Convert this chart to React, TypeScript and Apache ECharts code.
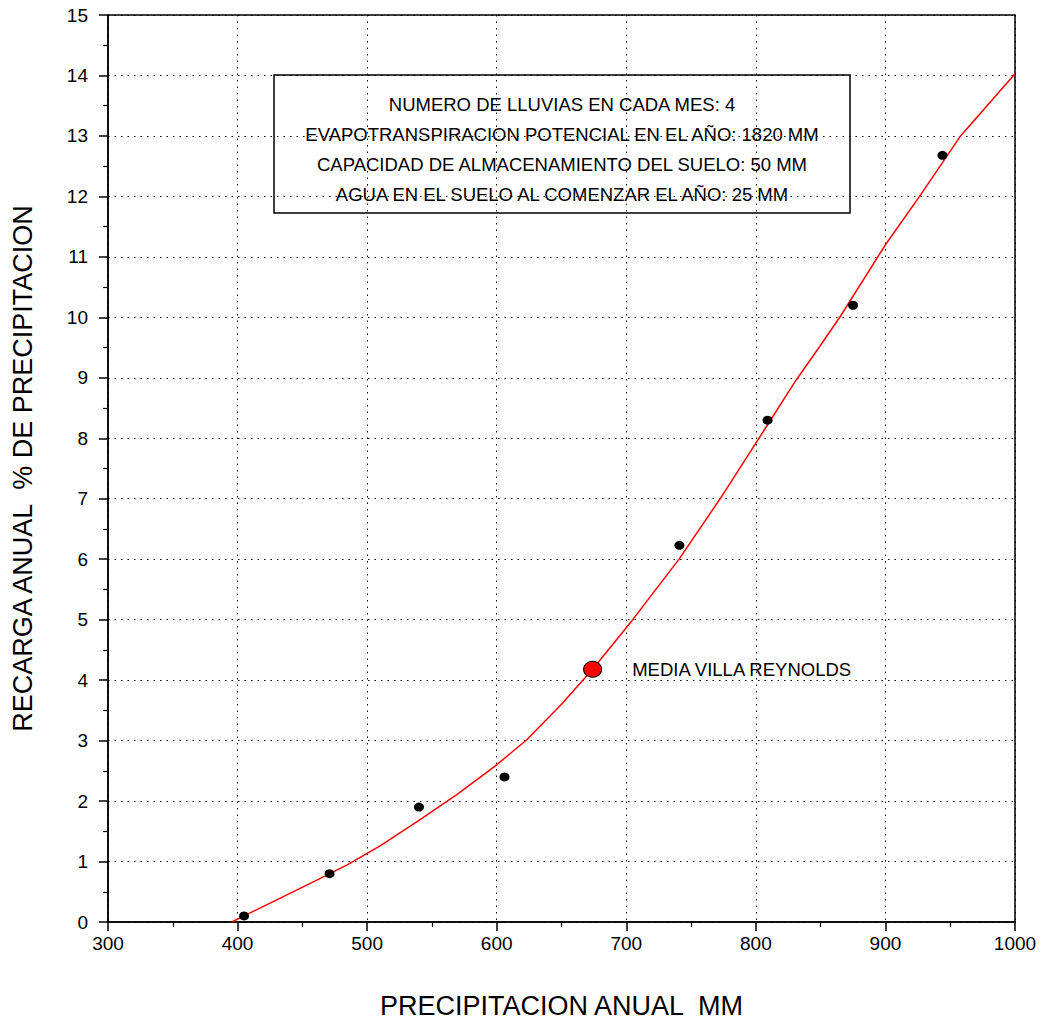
import React, { useEffect, useRef } from "react";
import * as echarts from "echarts";

const curveX = [395.5, 422, 440, 462, 485, 510, 540, 570, 600, 623, 650, 674, 705, 741, 774, 800, 831, 849, 865, 900, 927, 958, 1000];
const curveY = [0, 0.28, 0.47, 0.7, 0.95, 1.26, 1.68, 2.12, 2.6, 3.01, 3.6, 4.18, 5.0, 6.01, 7.05, 7.92, 8.96, 9.51, 10.01, 11.2, 12.02, 13.0, 14.03];

const obsX = [405, 471, 540, 606, 741, 809, 875, 944];
const obsY = [0.1, 0.8, 1.9, 2.4, 6.23, 8.3, 10.2, 12.68];

const meanX = [674];
const meanY = [4.18];
const meanLabel = "MEDIA VILLA REYNOLDS";

const boxLines = [
  "NUMERO DE LLUVIAS EN CADA MES: 4",
  "EVAPOTRANSPIRACION POTENCIAL EN EL AÑO: 1820 MM",
  "CAPACIDAD DE ALMACENAMIENTO DEL SUELO: 50 MM",
  "AGUA EN EL SUELO AL COMENZAR EL AÑO: 25 MM",
];

const xName = "PRECIPITACION ANUAL  MM";
const yName = "RECARGA ANUAL  % DE PRECIPITACION";

const FONT = "'Liberation Sans', Arial, sans-serif";

export default function App() {
  const ref = useRef<HTMLDivElement>(null);
  useEffect(() => {
    document.body.style.margin = "0";
    if (!ref.current) return;
    const chart = echarts.init(ref.current, null, { renderer: "svg" });
    const dotted = { color: "#000", width: 1, type: [1.5, 5] as any };
    const axisCommon = {
      axisLine: { show: true, lineStyle: { color: "#000", width: 1.5 } },
      axisTick: { show: true, inside: false, length: 9, lineStyle: { color: "#000", width: 1.5 } },
      minorTick: { show: true, splitNumber: 2, length: 5, lineStyle: { color: "#000", width: 1.2 } },
      splitLine: { show: true, lineStyle: dotted },
      nameTextStyle: { color: "#000", fontSize: 27, fontFamily: FONT },
    };
    chart.setOption({
      animation: false,
      backgroundColor: "#fff",
      grid: {
        left: 108, right: 31, top: 15, bottom: 104,
        containLabel: false, outerBoundsMode: "none",
        show: true, borderColor: "#000", borderWidth: 1.5,
      },
      xAxis: {
        type: "value",
        min: 300,
        max: 1000,
        interval: 100,
        name: xName,
        nameLocation: "middle",
        nameGap: 70,
        ...axisCommon,
        axisLabel: { color: "#000", fontSize: 19, fontFamily: FONT, margin: 12, formatter: (v: number) => String(v) },
      },
      yAxis: {
        type: "value",
        min: 0,
        max: 15,
        interval: 1,
        name: yName,
        nameLocation: "middle",
        nameGap: 72,
        ...axisCommon,
        axisLabel: { color: "#000", fontSize: 19, fontFamily: FONT, margin: 20, formatter: (v: number) => String(v) },
      },
      series: [
        {
          type: "line",
          data: curveX.map((x, i) => [x, curveY[i]]),
          showSymbol: false,
          smooth: false,
          lineStyle: { color: "#ff0000", width: 1.5 },
          z: 3,
        },
        {
          type: "scatter",
          data: obsX.map((x, i) => [x, obsY[i]]),
          symbol: "circle",
          symbolSize: [10, 9],
          itemStyle: { color: "#000", opacity: 1 },
          z: 4,
        },
        {
          type: "scatter",
          data: meanX.map((x, i) => [x, meanY[i]]),
          symbol: "circle",
          symbolSize: [18, 16],
          itemStyle: { color: "#ff0000", borderColor: "#000", borderWidth: 1, opacity: 1 },
          label: {
            show: true,
            position: "right",
            distance: 30,
            formatter: meanLabel,
            color: "#000",
            fontSize: 18.5,
            fontFamily: FONT,
          },
          z: 5,
        },
      ],
      graphic: [
        {
          type: "group",
          z: 100,
          children: [
            {
              type: "rect",
              shape: { x: 274, y: 75, width: 576, height: 138 },
              style: { fill: "#fff", stroke: "#000", lineWidth: 1.5 },
            },
            ...boxLines.map((t, i) => ({
              type: "text",
              x: 562,
              y: 104 + i * 30,
              style: {
                text: t,
                fill: "#000",
                font: `18.5px ${FONT}`,
                textAlign: "center",
                textVerticalAlign: "middle",
              },
            })),
          ],
        },
      ],
    });
    return () => chart.dispose();
  }, []);
  return <div ref={ref} style={{ width: 1046, height: 1026 }} />;
}
